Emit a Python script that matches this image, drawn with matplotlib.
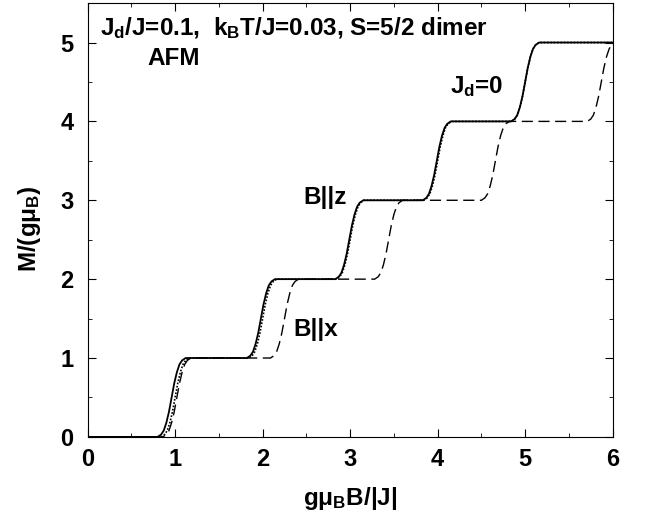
import matplotlib
matplotlib.use("Agg")
import matplotlib.pyplot as plt
from matplotlib.ticker import MultipleLocator

plt.rcParams["font.family"] = ["Liberation Sans", "DejaVu Sans"]
plt.rcParams["font.weight"] = "bold"
plt.rcParams["mathtext.fontset"] = "custom"
plt.rcParams["mathtext.rm"] = "Liberation Sans:bold"
plt.rcParams["mathtext.bf"] = "Liberation Sans:bold"
plt.rcParams["mathtext.it"] = "Liberation Sans:bold"
plt.rcParams["mathtext.default"] = "bf"

# magnetization M/(g muB), same levels for every curve
m_levels = [0.0,
            0.0, 0.03, 0.08, 0.18, 0.32, 0.5, 0.68, 0.82, 0.92, 0.97, 1.0,
            1.0, 1.03, 1.08, 1.18, 1.32, 1.5, 1.68, 1.82, 1.92, 1.97, 2.0,
            2.0, 2.03, 2.08, 2.18, 2.32, 2.5, 2.68, 2.82, 2.92, 2.97, 3.0,
            3.0, 3.03, 3.08, 3.18, 3.32, 3.5, 3.68, 3.82, 3.92, 3.97, 4.0,
            4.0, 4.03, 4.08, 4.18, 4.32, 4.5, 4.68, 4.82, 4.92, 4.97, 5.0,
            5.0]

# B || z
field_z = [0.0,
           0.80, 0.84, 0.87, 0.90, 0.93, 0.96, 0.99, 1.02, 1.05, 1.08, 1.12,
           1.82, 1.86, 1.89, 1.92, 1.95, 1.98, 2.01, 2.04, 2.07, 2.10, 2.14,
           2.83, 2.87, 2.90, 2.93, 2.96, 2.99, 3.02, 3.05, 3.08, 3.11, 3.15,
           3.83, 3.87, 3.90, 3.93, 3.96, 3.99, 4.02, 4.05, 4.08, 4.11, 4.15,
           4.84, 4.88, 4.91, 4.94, 4.97, 5.00, 5.03, 5.06, 5.09, 5.12, 5.16,
           6.0]

# Jd = 0
field_0 = [0.0,
           0.84, 0.88, 0.91, 0.94, 0.97, 1.00, 1.03, 1.06, 1.09, 1.12, 1.16,
           1.84, 1.88, 1.91, 1.94, 1.97, 2.00, 2.03, 2.06, 2.09, 2.12, 2.16,
           2.84, 2.88, 2.91, 2.94, 2.97, 3.00, 3.03, 3.06, 3.09, 3.12, 3.16,
           3.84, 3.88, 3.91, 3.94, 3.97, 4.00, 4.03, 4.06, 4.09, 4.12, 4.16,
           4.84, 4.88, 4.91, 4.94, 4.97, 5.00, 5.03, 5.06, 5.09, 5.12, 5.16,
           6.0]

# B || x
field_x = [0.0,
           0.86, 0.90, 0.93, 0.96, 0.99, 1.02, 1.05, 1.08, 1.11, 1.14, 1.18,
           2.09, 2.13, 2.16, 2.19, 2.22, 2.25, 2.28, 2.31, 2.34, 2.37, 2.41,
           3.28, 3.32, 3.35, 3.38, 3.41, 3.44, 3.47, 3.50, 3.53, 3.56, 3.60,
           4.50, 4.54, 4.57, 4.60, 4.63, 4.66, 4.69, 4.72, 4.75, 4.78, 4.82,
           5.71, 5.75, 5.78, 5.81, 5.84, 5.87, 5.90, 5.93, 5.96, 5.99, 6.03,
           6.1]

fig = plt.figure(figsize=(6.49, 5.14), dpi=100)
ax = fig.add_axes([0.135, 0.150, 0.809, 0.844])

ax.plot(field_z, m_levels, color="black", lw=1.3)
ax.plot(field_0, m_levels, color="black", lw=1.2, linestyle=(0, (1, 1)))
ax.plot(field_x, m_levels, color="black", lw=1.0, linestyle=(0, (8, 4)))

ax.set_xlim(0, 6)
ax.set_ylim(0, 5.5)
ax.xaxis.set_major_locator(MultipleLocator(1))
ax.xaxis.set_minor_locator(MultipleLocator(0.5))
ax.yaxis.set_major_locator(MultipleLocator(1))
ax.yaxis.set_minor_locator(MultipleLocator(0.5))
ax.tick_params(which="both", direction="in", top=True, right=True, labelsize=17)
ax.tick_params(axis="x", pad=8)
ax.tick_params(axis="y", pad=10)
ax.tick_params(which="major", length=6)
ax.tick_params(which="minor", length=3)
for lab in ax.get_xticklabels() + ax.get_yticklabels():
    lab.set_fontweight("bold")

ax.set_xlabel("gμ$_\\mathbf{B}$B/|J|", fontsize=17.5, fontweight="bold")
ax.set_ylabel("M/(gμ$_\\mathbf{B}$)", fontsize=17.5, fontweight="bold")
ax.xaxis.set_label_coords(0.5, -0.11)
ax.yaxis.set_label_coords(-0.085, 0.48)

ax.text(0.14, 5.18, "J$_\\mathbf{d}$/J=0.1,  k$_\\mathbf{B}$T/J=0.03, S=5/2 dimer",
        fontsize=17.5, fontweight="bold", va="center")
ax.text(0.68, 4.8, "AFM", fontsize=17.5, fontweight="bold", va="center")
ax.text(4.14, 4.44, "J$_\\mathbf{d}$=0", fontsize=17.5, fontweight="bold", va="center")
ax.text(2.46, 3.03, "B||z", fontsize=17.5, fontweight="bold", va="center")
ax.text(2.35, 1.36, "B||x", fontsize=17.5, fontweight="bold", va="center")

fig.savefig("out.png", dpi=100)
